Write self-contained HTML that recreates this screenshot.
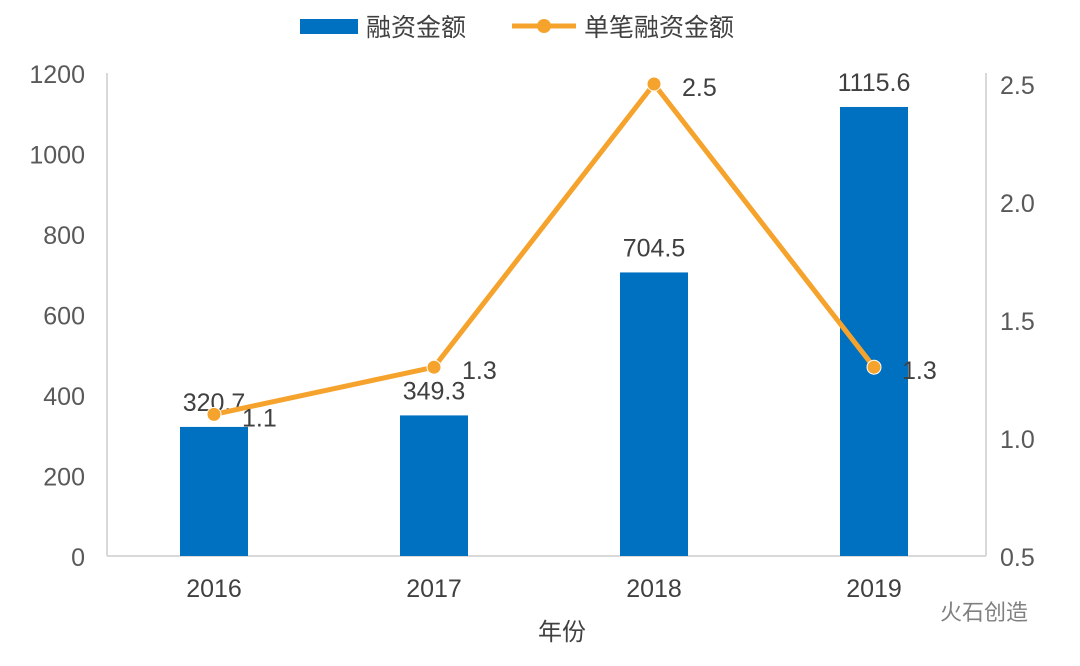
<!DOCTYPE html>
<html><head><meta charset="utf-8"><style>
body{margin:0;background:#fff;width:1080px;height:661px;overflow:hidden}
svg{font-family:"Liberation Sans","Noto Sans CJK SC",sans-serif}
</style></head><body>
<svg id="c" width="1080" height="661">
<g>
<rect x="300" y="19" width="58" height="15" fill="#0070c0"/>
<text x="366" y="36" font-size="25" fill="#404040">融资金额</text>
<line x1="512" y1="26" x2="576" y2="26" stroke="#f5a32c" stroke-width="5"/>
<circle cx="544" cy="26" r="7" fill="#f5a32c"/>
<text x="584" y="36" font-size="25" fill="#404040">单笔融资金额</text>
</g>
<g id="axes"></g>
<g id="bars"></g>
<g id="line"></g>
<text x="562" y="640" font-size="24" fill="#404040" text-anchor="middle">年份</text>
<text x="940" y="620" font-size="22" fill="#808080">火石创造</text>
</svg>
<script>
const categories=["2016","2017","2018","2019"];
const amounts=[320.7,349.3,704.5,1115.6];
const perDeal=[1.1,1.3,2.5,1.3];
const leftTicks=[0,200,400,600,800,1000,1200];
const rightTicks=["0.5","1.0","1.5","2.0","2.5"];
const NS="http://www.w3.org/2000/svg";
const X0=104,BAND=220,BOT=556,LEFT=107,RIGHT=986;
const yL=v=>BOT-v*(483/1200);
const yR=v=>BOT-(v-0.5)*236;
const xC=i=>X0+BAND*i+BAND/2+0;
function mk(t,a,p,txt){const e=document.createElementNS(NS,t);for(const k in a)e.setAttribute(k,a[k]);if(txt!=null)e.textContent=txt;p.appendChild(e);return e;}
const ax=document.getElementById('axes');
let e=mk('line',{x1:LEFT,y1:yL(1200),x2:LEFT,y2:BOT,stroke:'#d9d9d9','stroke-width':2},ax);


e=mk('line',{x1:RIGHT,y1:yL(1200),x2:RIGHT,y2:BOT,stroke:'#d9d9d9','stroke-width':2},ax);


e=mk('line',{x1:LEFT,y1:BOT,x2:RIGHT,y2:BOT,stroke:'#d9d9d9','stroke-width':2},ax);


leftTicks.forEach(v=>{const t=mk('text',{x:85,y:yL(v)+10,'font-size':25,fill:'#595959','text-anchor':'end'},ax,String(v));

});
rightTicks.forEach(v=>{const t=mk('text',{x:1000,y:yR(parseFloat(v))+10,'font-size':25,fill:'#595959'},ax,v);

});
categories.forEach((c,i)=>{const t=mk('text',{x:xC(i),y:597,'font-size':25,fill:'#404040','text-anchor':'middle'},ax,c);

});
const bg=document.getElementById('bars');
amounts.forEach((v,i)=>{const r=mk('rect',{x:xC(i)-34,y:yL(v),width:68,height:BOT-yL(v),fill:'#0070c0'},bg);


const t=mk('text',{x:xC(i),y:yL(v)-16,'font-size':25,fill:'#404040','text-anchor':'middle'},bg,v.toFixed(1));

});
const lg=document.getElementById('line');
const pl=mk('polyline',{points:perDeal.map((v,i)=>xC(i)+','+yR(v)).join(' '),fill:'none',stroke:'#f5a32c','stroke-width':5,'stroke-linejoin':'round'},lg);


perDeal.forEach((v,i)=>{const c=mk('circle',{cx:xC(i),cy:yR(v),r:7,fill:'#f5a32c',stroke:'#fff','stroke-width':1},lg);


const t=mk('text',{x:xC(i)+28,y:yR(v)+12,'font-size':25,fill:'#404040'},lg,v.toFixed(1));

});
</script>
</body></html>
